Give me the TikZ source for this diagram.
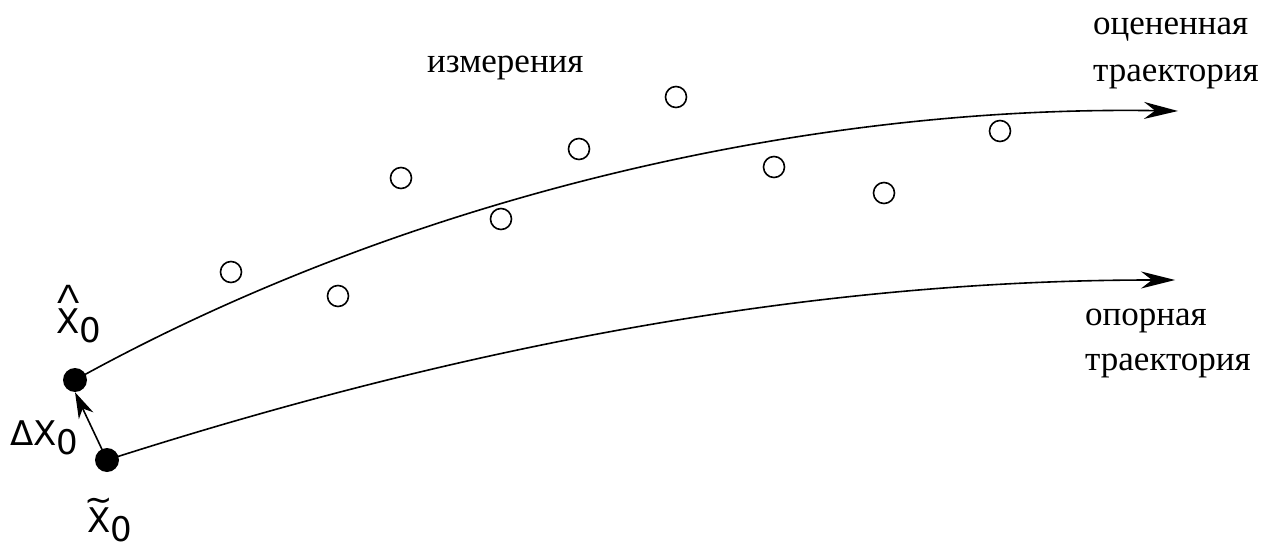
\documentclass[tikz,border=0pt]{standalone}
\usepackage{fontspec}
\setmainfont{Liberation Serif}
\newfontfamily\lblfont{DejaVu Sans}
\usetikzlibrary{arrows.meta}
\newcommand{\subz}{\raisebox{-9pt}{0}}
\begin{document}
\begin{tikzpicture}[x=1pt,y=-1pt,
  traj/.style={line width=1.6pt,-{Stealth[length=34pt,width=17pt,inset=11pt]}},
  meas/.style={circle,draw,line width=1.6pt,minimum size=21pt,inner sep=0pt},
  pt/.style={circle,fill,minimum size=24pt,inner sep=0pt},
  ru/.style={font=\fontsize{35}{40}\selectfont,inner sep=0pt,anchor=base west},
  lbl/.style={font=\lblfont\fontsize{34}{40}\selectfont,inner sep=0pt,anchor=base west}]
\useasboundingbox (0,0) rectangle (1276,545);
\node[pt] (hat) at (75,380) {};
\node[pt] (til) at (107,460) {};
\coordinate (e1) at (1178,111);
\coordinate (e2) at (1175,280);
\draw[traj] (hat.center) .. controls (400,200) and (800,105) .. (e1);
\draw[traj] (til.center) .. controls (450,350) and (800,280) .. (e2);
\draw[line width=1.6pt,-{Stealth[length=26pt,width=16pt,inset=8pt]}] (til.center) -- (hat.south);
\foreach \n/\x/\y in {m1/231/272, m2/338/296, m3/401/178, m4/501/219, m5/579/149, m6/676/97, m7/774/167, m8/884/193, m9/1000/131}
  \node[meas] (\n) at (\x,\y) {};
\node[ru] (meas) at (427,73) {измерения};
\node[ru] (est1) at (1093,35) {оцененная};
\node[ru] (est2) at (1093,82) {траектория};
\node[ru] (ref1) at (1085,325) {опорная};
\node[ru] (ref2) at (1085,370) {траектория};
\node[lbl] (lhat) at (56,333) {\makebox[0pt][l]{\makebox[24pt]{\raisebox{30pt}{\fontsize{25}{30}\selectfont\scalebox{1.3}[1]{Λ}}}}X\subz};
\node[lbl] (ldel) at (10,445) {ΔX\subz};
\node[lbl] (ltil) at (87,532) {\makebox[0pt][l]{\makebox[23pt]{\raisebox{21pt}{\textasciitilde}}}X\subz};
\end{tikzpicture}
\end{document}
